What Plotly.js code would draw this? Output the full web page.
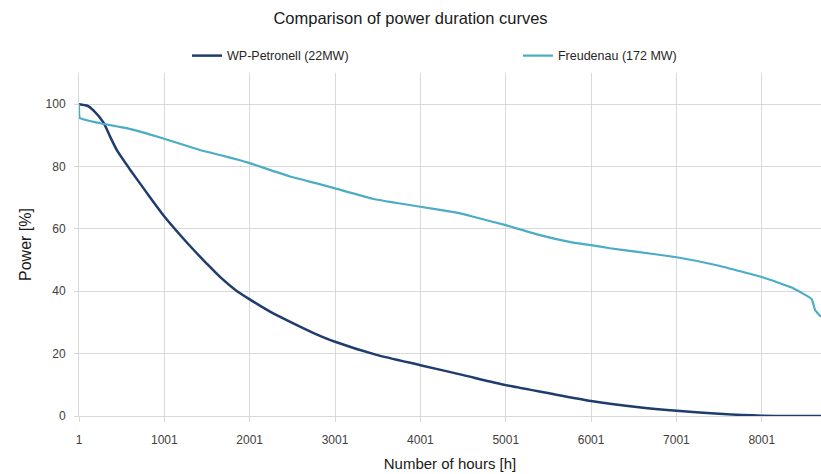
<!DOCTYPE html>
<html>
<head>
<meta charset="utf-8">
<script src="https://cdn.plot.ly/plotly-3.0.1.min.js"></script>
<style>html,body{margin:0;padding:0;background:#fff;}#chart{width:821px;height:474px;}</style>
</head>
<body>
<div id="chart"></div>
<script>
// Data
const wpHours = [1, 100, 170, 290, 365, 450, 600, 800, 1001, 1220, 1340, 1500, 1653, 1830, 2001, 2250, 2512, 2750, 3001, 3488, 4001, 4504, 5001, 5520, 6001, 6535, 7043, 7500, 8001, 8695];
const wpPower = [100, 99.5, 98, 94, 89.6, 85, 79, 71.4, 64, 57, 53.4, 48.8, 44.6, 40.5, 37.4, 33.3, 29.7, 26.6, 23.8, 19.6, 16.3, 13.1, 9.9, 7.2, 4.8, 2.9, 1.6, 0.7, 0.1, 0];
const frHours = [1, 10, 250, 560, 989, 1419, 1653, 1888, 2001, 2473, 2786, 3001, 3450, 4001, 4427, 4622, 5001, 5403, 5792, 6001, 6223, 6500, 7004, 7500, 8020, 8352, 8586, 8625, 8695];
const frPower = [100, 95.6, 93.9, 92.3, 89, 85.3, 83.7, 82.0, 81.1, 76.8, 74.6, 73.0, 69.6, 67.1, 65.2, 63.9, 61.2, 58.0, 55.6, 54.8, 53.8, 52.8, 50.9, 48.2, 44.4, 41.2, 37.5, 34, 31.8];
const xTicks = [1, 1001, 2001, 3001, 4001, 5001, 6001, 7001, 8001];
const yTicks = [0, 20, 40, 60, 80, 100];
const seriesNames = ['WP-Petronell (22MW)', 'Freudenau (172 MW)'];

const font = 'Liberation Sans, Arial, sans-serif';
const grid = '#d9d9d9';

const traces = [
  {x: wpHours, y: wpPower, name: seriesNames[0], type: 'scatter', mode: 'lines',
   line: {color: '#1f3c6e', width: 2.5, shape: 'spline', smoothing: 0.6}, legend: 'legend'},
  {x: frHours, y: frPower, name: seriesNames[1], type: 'scatter', mode: 'lines',
   line: {color: '#4bacc6', width: 2.2, shape: 'spline', smoothing: 0.3}, legend: 'legend2'}
];

const layout = {
  width: 821, height: 474,
  margin: {l: 79, r: 0, t: 73, b: 58},
  paper_bgcolor: '#fff', plot_bgcolor: '#fff',
  font: {family: font, color: '#404040', size: 12},
  title: {text: 'Comparison of power duration curves', x: 0.5, xref: 'container', xanchor: 'center',
          y: 0.962, yref: 'container', yanchor: 'middle', font: {family: font, size: 16.5, color: '#1a1a1a'}},
  xaxis: {range: [1, 8695], tickvals: xTicks, ticktext: xTicks.map(String),
          showgrid: true, gridcolor: grid, gridwidth: 1, zeroline: false,
          showline: true, linecolor: grid, linewidth: 1,
          ticks: 'outside', ticklen: 5, tickcolor: grid, ticklabelstandoff: 8,
          tickfont: {family: font, size: 12, color: '#404040'},
          title: {text: 'Number of hours [h]', font: {family: font, size: 15, color: '#1a1a1a'}, standoff: 12}},
  yaxis: {range: [0, 110], tickvals: yTicks, ticktext: yTicks.map(String),
          showgrid: true, gridcolor: grid, gridwidth: 1, zeroline: false,
          showline: true, linecolor: grid, linewidth: 1,
          ticks: 'outside', ticklen: 4, tickcolor: grid, ticklabelstandoff: 6,
          tickfont: {family: font, size: 12, color: '#404040'},
          title: {text: 'Power [%]', font: {family: font, size: 16, color: '#1a1a1a'}, standoff: 9}},
  showlegend: true,
  legend: {x: 0.1456, xanchor: 'left', y: 1.0496, yanchor: 'middle', orientation: 'h',
           bgcolor: 'rgba(0,0,0,0)', font: {family: font, size: 12.5, color: '#262626'}},
  legend2: {x: 0.5916, xanchor: 'left', y: 1.0496, yanchor: 'middle', orientation: 'h',
           bgcolor: 'rgba(0,0,0,0)', font: {family: font, size: 12.5, color: '#262626'}}
};

Plotly.newPlot('chart', traces, layout, {displayModeBar: false, staticPlot: true});
</script>
</body>
</html>
